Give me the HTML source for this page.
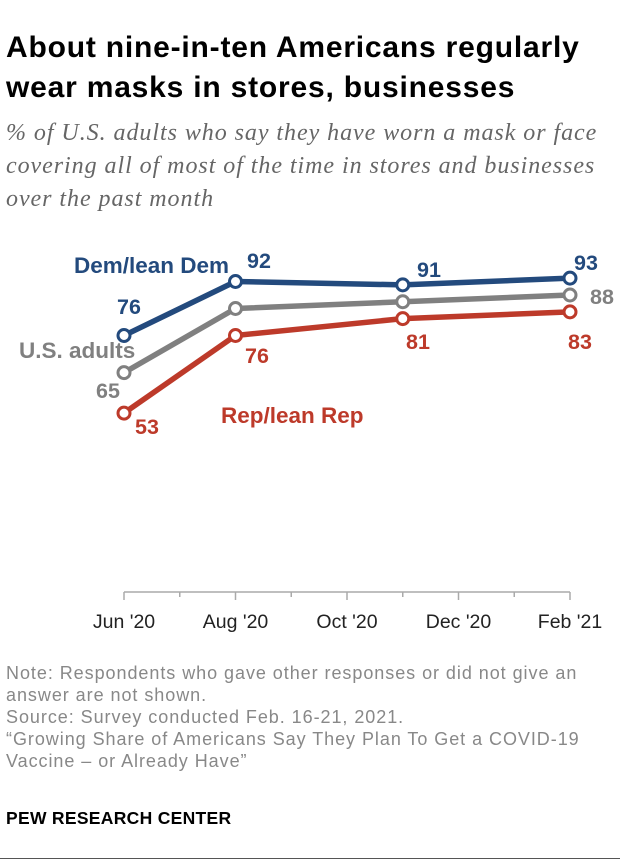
<!DOCTYPE html>
<html><head><meta charset="utf-8"><style>
body{margin:0;background:#fff;width:620px;height:866px;overflow:hidden;position:relative;font-family:"Liberation Sans",sans-serif}
.t{position:absolute;left:6px;top:28px;font-size:30px;font-weight:bold;line-height:40px;color:#000;letter-spacing:0.8px;white-space:nowrap}
.s{position:absolute;left:6px;top:117px;font-family:"Liberation Serif",serif;font-style:italic;font-size:24px;line-height:33px;color:#666;letter-spacing:0.95px;white-space:nowrap}
.n{position:absolute;left:6px;top:662px;font-size:18px;line-height:22px;color:#888;letter-spacing:0.95px;white-space:nowrap}
.p{position:absolute;left:6px;top:808px;font-size:17.5px;font-weight:bold;color:#000;letter-spacing:0.3px}
.b{position:absolute;left:0;top:858px;width:620px;height:1px;background:#555}
svg{position:absolute;left:0;top:0}
</style></head><body>
<div class="t">About nine-in-ten Americans regularly<br>wear masks in stores, businesses</div>
<div class="s">% of U.S. adults who say they have worn a mask or face<br>covering all of most of the time in stores and businesses<br>over the past month</div>
<svg id="c" width="620" height="866"></svg>
<div class="n">Note: Respondents who gave other responses or did not give an<br>answer are not shown.<br>Source: Survey conducted Feb. 16-21, 2021.<br>“Growing Share of Americans Say They Plan To Get a COVID-19<br>Vaccine – or Already Have”</div>
<div class="p">PEW RESEARCH CENTER</div>
<div class="b"></div>
<script>
const months=[0,2,5,8];
const dem=[76,92,91,93];
const all=[65,84,86,88];
const rep=[53,76,81,83];
const tickLabels=["Jun '20","Aug '20","Oct '20","Dec '20","Feb '21"];
const x=m=>124+m*55.75;
const y=v=>592-v*3.375;
const svg=document.getElementById('c');
const NS='http://www.w3.org/2000/svg';
function mk(t,a){const e=document.createElementNS(NS,t);for(const k in a)e.setAttribute(k,a[k]);svg.appendChild(e);return e;}
const ax=mk('line',{x1:x(0),x2:x(8),y1:592,y2:592,stroke:'#aaa','stroke-width':1.5});


for(let m=0;m<=8;m++){const tk=mk('line',{x1:x(m),x2:x(m),y1:592,y2:(m%2==0?600:597),stroke:'#aaa','stroke-width':1.5});

}
tickLabels.forEach((l,i)=>{const t=mk('text',{x:x(i*2),y:628,'text-anchor':'middle','font-size':19.5,fill:'#222','font-family':'Liberation Sans Narrow, Liberation Sans, sans-serif'});t.textContent=l;

});
const series=[['dem',dem,'#234a7d'],['all',all,'#808080'],['rep',rep,'#bd3a2a']];
series.forEach(([n,d,c])=>{
const pl=mk('polyline',{points:d.map((v,i)=>x(months[i])+','+y(v)).join(' '),fill:'none',stroke:c,'stroke-width':5.5,'stroke-linejoin':'round'});


d.forEach((v,i)=>{const ci=mk('circle',{cx:x(months[i]),cy:y(v),r:6,fill:'#fff',stroke:c,'stroke-width':3});

});
});
function lab(s,xx,yy,c,nm,a,fs){const t=mk('text',{x:xx,y:yy,'font-size':fs||21.5,'font-weight':'bold',fill:c,'text-anchor':a||'start','font-family':'Liberation Sans Narrow, Liberation Sans, sans-serif'});t.textContent=s;

}
const B='#234a7d',G='#808080',R='#bd3a2a';
lab('Dem/lean Dem',74,273,B,'dem-legend-label','start',22.5);
lab('U.S. adults',19,358,G,'us-adults-legend-label','start',22.5);
lab('Rep/lean Rep',221,423,R,'rep-legend-label','start',22.5);
lab(dem[0],129,314,B,'dem-value','middle');lab(dem[1],259,268,B,'dem-value','middle');lab(dem[2],429,277,B,'dem-value','middle');lab(dem[3],586,270,B,'dem-value','middle');
lab(all[0],108,398,G,'us-value','middle');lab(all[3],602,304,G,'us-value','middle');
lab(rep[0],147,434,R,'rep-value','middle');lab(rep[1],257,363,R,'rep-value','middle');lab(rep[2],418,349,R,'rep-value','middle');lab(rep[3],580,349,R,'rep-value','middle');
</script>
</body></html>
